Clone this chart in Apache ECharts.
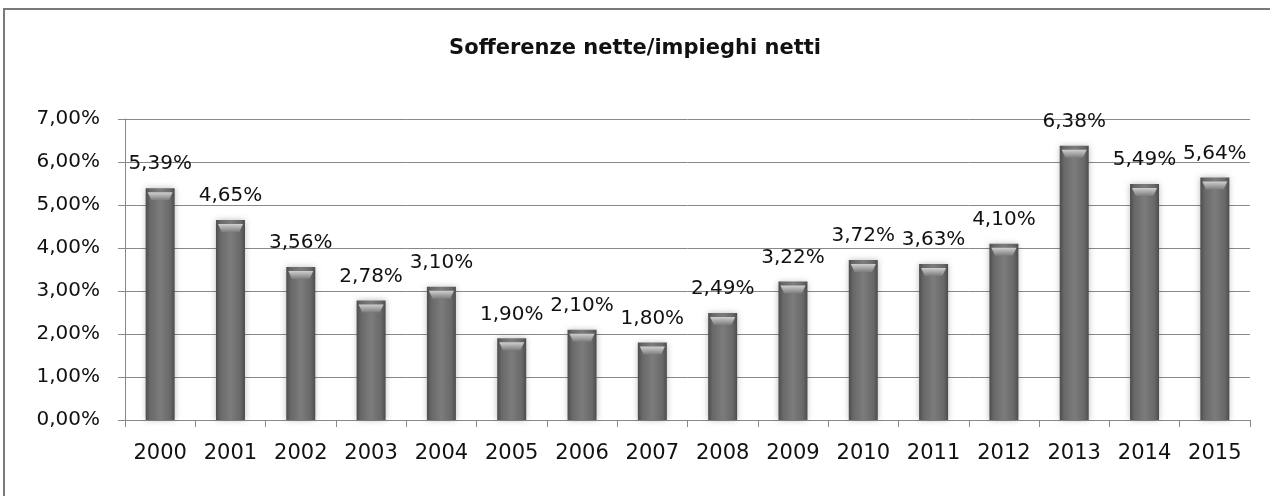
<!DOCTYPE html>
<html>
<head>
<meta charset="utf-8">
<script src="https://cdn.jsdelivr.net/npm/echarts@6/dist/echarts.min.js"></script>
<style>
  html, body { margin: 0; padding: 0; background: #fff; }
  #chart { width: 1270px; height: 496px; }
</style>
</head>
<body>
<div id="chart"></div>
<script>
var years = ["2000", "2001", "2002", "2003", "2004", "2005", "2006", "2007",
             "2008", "2009", "2010", "2011", "2012", "2013", "2014", "2015"];
var ratios = [5.39, 4.65, 3.56, 2.78, 3.10, 1.90, 2.10, 1.80,
              2.49, 3.22, 3.72, 3.63, 4.10, 6.38, 5.49, 5.64];
var yTicks = [0, 1, 2, 3, 4, 5, 6, 7];

var fmt = function (v) {
    return v.toFixed(2).replace(".", ",") + "%";
};

var myChart = echarts.init(document.getElementById("chart"));

var barColor = new echarts.graphic.LinearGradient(0, 0, 1, 0, [
    { offset: 0, color: "#4c4c4c" },
    { offset: 0.15, color: "#686868" },
    { offset: 0.5, color: "#7c7c7c" },
    { offset: 0.85, color: "#686868" },
    { offset: 1, color: "#4c4c4c" }
]);

// light bevel on top of each bar
var capColor = new echarts.graphic.LinearGradient(0, 0, 0, 1, [
    { offset: 0, color: "#d0d0d0" },
    { offset: 1, color: "#7c7c7c" }
]);

var option = {
    animation: false,
    textStyle: { fontFamily: "DejaVu Sans" },
    title: {
        text: "Sofferenze nette/impieghi netti",
        left: "center",
        top: 33,
        textStyle: {
            fontFamily: "DejaVu Sans",
            fontSize: 21,
            fontWeight: "bold",
            color: "#111"
        }
    },
    graphic: [
        {
            type: "rect",
            shape: { x: 4, y: 9, width: 1290, height: 520 },
            style: { fill: "none", stroke: "#7a7a7a", lineWidth: 2 }
        }
    ],
    grid: { left: 125, right: 20, top: 119, bottom: 76 },
    xAxis: {
        type: "category",
        data: years,
        axisLine: { lineStyle: { color: "#888" } },
        axisTick: { show: true, length: 7, lineStyle: { color: "#888" } },
        axisLabel: { color: "#111", fontSize: 21, margin: 23 }
    },
    yAxis: {
        type: "value",
        min: yTicks[0],
        max: yTicks[yTicks.length - 1],
        interval: 1,
        axisLine: { show: true, lineStyle: { color: "#888" } },
        axisTick: { show: true, length: 7, lineStyle: { color: "#888" } },
        axisLabel: { color: "#111", fontSize: 20, margin: 25, formatter: fmt },
        splitLine: { lineStyle: { color: "#888", width: 1 } }
    },
    series: [
        {
            type: "bar",
            data: ratios,
            barWidth: 29,
            barGap: "-100%",
            itemStyle: {
                color: barColor,
                shadowColor: "rgba(0,0,0,0.25)",
                shadowBlur: 6
            },
            label: {
                show: true,
                position: "top",
                distance: 14,
                color: "#111",
                fontSize: 20,
                formatter: function (p) { return fmt(p.value); }
            }
        },
        {
            type: "pictorialBar",
            data: ratios,
            symbol: "path://M0,0 L10,0 L8.5,10 L1.5,10 Z",
            symbolSize: [25, 8],
            symbolPosition: "end",
            symbolOffset: [0, "50%"],
            z: 3,
            itemStyle: { color: capColor }
        }
    ]
};
myChart.setOption(option);
</script>
</body>
</html>
